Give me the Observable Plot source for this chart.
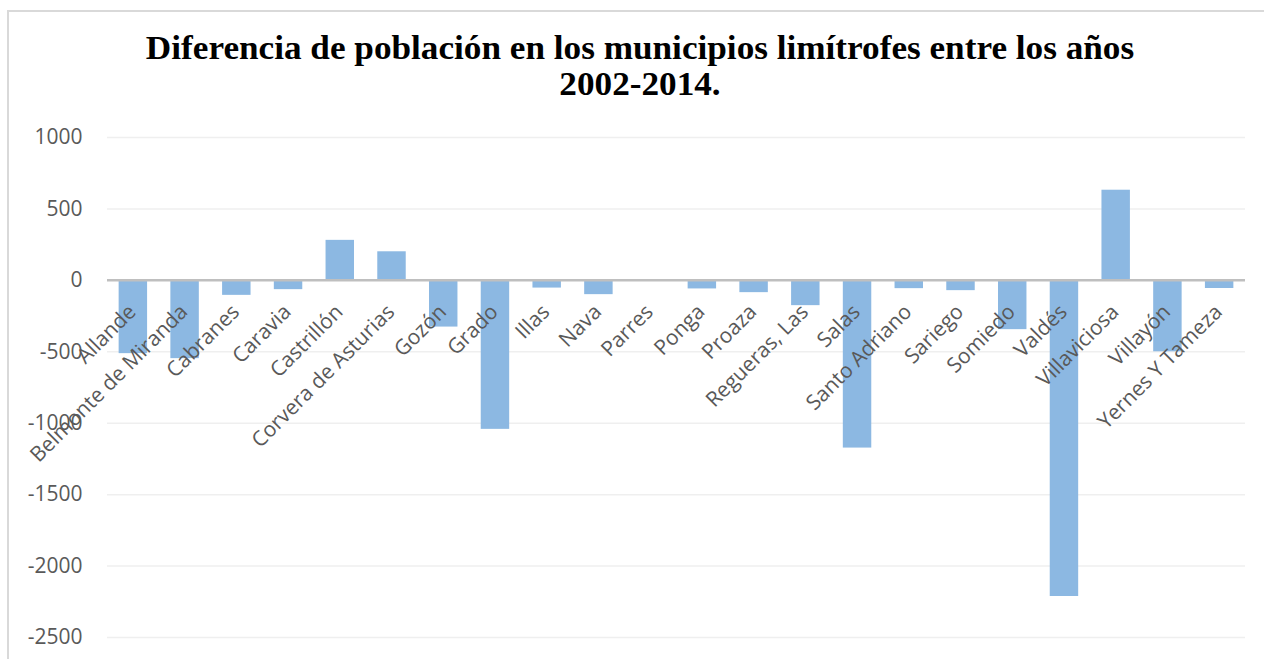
<!DOCTYPE html>
<html>
<head>
<meta charset="utf-8">
<script src="https://cdn.jsdelivr.net/npm/d3@7"></script>
<script src="https://cdn.jsdelivr.net/npm/@observablehq/plot@0.6"></script>
<style>
  html, body { margin: 0; padding: 0; background: #fff; overflow: hidden; }
  body { width: 1264px; height: 659px; position: relative; }
  #frame { position: absolute; left: 7px; top: 10px; width: 1400px; height: 800px;
           border-top: 2px solid #d9d9d9; border-left: 2px solid #d9d9d9; box-sizing: border-box; }
  #title { position: absolute; left: 0; top: 30px; width: 1280px; text-align: center;
           font-family: "Liberation Serif", "Times New Roman", serif; font-weight: bold;
           font-size: 34px; line-height: 36px; color: #000;
           transform: scaleX(1.035); transform-origin: 640px 0; }
  #chart { position: absolute; left: 0; top: 110px; }
</style>
</head>
<body>
<div id="frame"></div>
<div id="title">Diferencia de población en los municipios limítrofes entre los años<br>2002-2014.</div>
<div id="chart"></div>
<script>
const municipios = ["Allande", "Belmonte de Miranda", "Cabranes", "Caravia", "Castrillón",
  "Corvera de Asturias", "Gozón", "Grado", "Illas", "Nava", "Parres", "Ponga", "Proaza",
  "Regueras, Las", "Salas", "Santo Adriano", "Sariego", "Somiedo", "Valdés", "Villaviciosa",
  "Villayón", "Yernes Y Tameza"];
const diferencia = [-513, -548, -105, -65, 280, 200, -327, -1043, -54, -100, 0, -60, -86,
  -177, -1174, -58, -72, -345, -2213, 631, -500, -57];
const yTicks = [1000, 500, 0, -500, -1000, -1500, -2000, -2500];

const data = municipios.map((m, i) => ({municipio: m, valor: diferencia[i]}));

const chart = Plot.plot({
  width: 1264,
  height: 549,
  marginLeft: 107,
  marginRight: 19,
  marginTop: 27,
  marginBottom: 22,
  style: {fontFamily: "'Open Sans', sans-serif", background: "transparent"},
  x: {domain: municipios, paddingInner: 0.45, paddingOuter: 0.225, round: false, axis: null},
  y: {domain: [-2500, 1000], ticks: yTicks, tickSize: 0, tickPadding: 25, tickFormat: d => String(d), label: null},
  marks: [
    Plot.ruleY(yTicks.filter(d => d !== 0), {stroke: "#efefef", strokeWidth: 1.5}),
    Plot.barY(data, {x: "municipio", y: "valor", fill: "#8cb8e2"}),
    Plot.ruleY([0], {stroke: "#bfbfbf", strokeWidth: 2.5}),
    Plot.text(data, {x: "municipio", y: () => 0, text: "municipio", rotate: -45,
      textAnchor: "end", dy: 28, dx: -1, fontSize: 21, fill: "#595959"})
  ]
});
chart.querySelectorAll("g[aria-label='y-axis tick label']").forEach(el => {
  el.setAttribute("font-size", "21");
  el.setAttribute("fill", "#595959");
});
document.getElementById("chart").appendChild(chart);
</script>
</body>
</html>
